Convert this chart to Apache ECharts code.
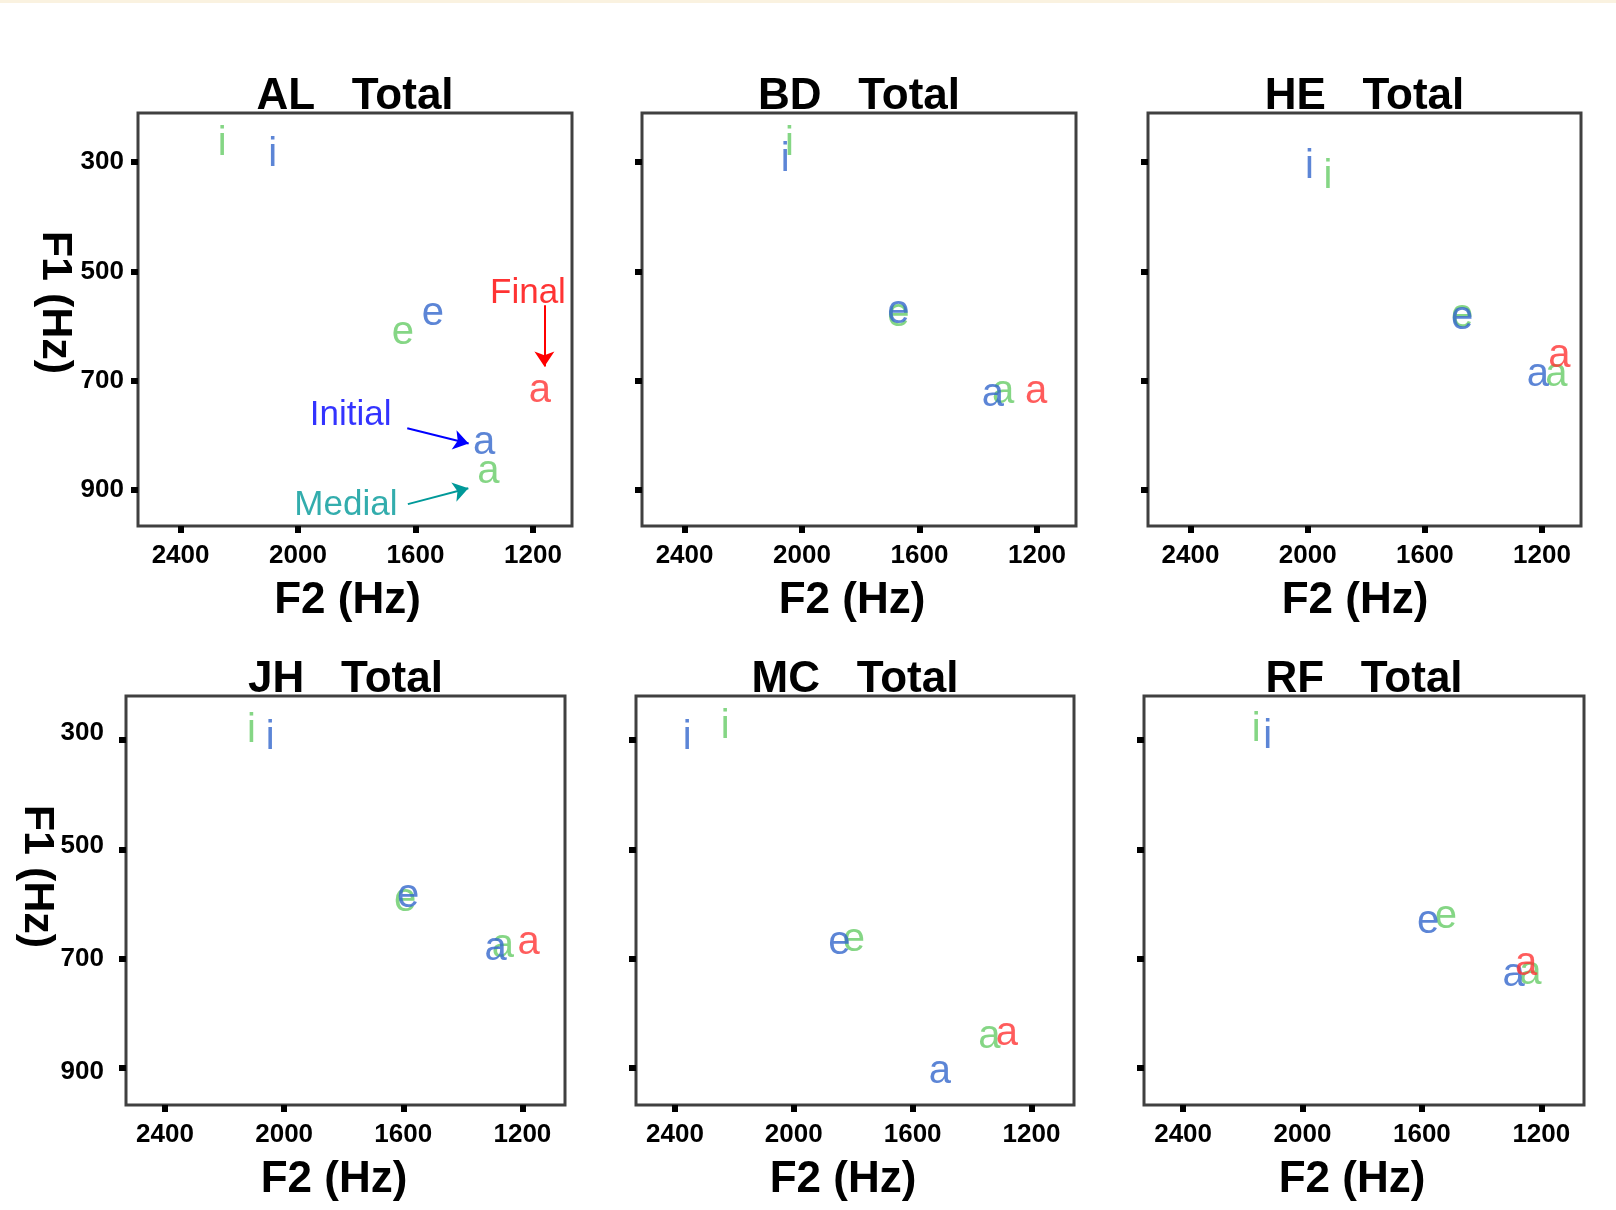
<!DOCTYPE html>
<html>
<head>
<meta charset="utf-8">
<script src="https://cdn.jsdelivr.net/npm/echarts@6/dist/echarts.min.js"></script>
<style>
  html, body { margin: 0; padding: 0; background: #ffffff; }
  #chart { width: 1616px; height: 1210px; }
</style>
</head>
<body>
<div id="chart"></div>
<script>
// Speakers (one panel each) and vowel order used in every row of the formant tables
const speakers = ['AL', 'BD', 'HE', 'JH', 'MC', 'RF'];
const vowels = ['i', 'e', 'a'];

// Mean formants (Hz) per speaker, columns follow `vowels`
const initialF2 = [
  [2086, 1541, 1366],
  [2057, 1672, 1350],
  [1994, 1473, 1214],
  [2047, 1584, 1290],
  [2359, 1847, 1508],
  [2117, 1579, 1293]
];
const initialF1 = [
  [286, 578, 814],
  [296, 575, 726],
  [309, 586, 689],
  [296, 585, 683],
  [296, 672, 908],
  [294, 632, 730]
];
const medialF2 = [
  [2258, 1643, 1352],
  [2043, 1672, 1315],
  [1931, 1473, 1151],
  [2110, 1594, 1266],
  [2231, 1798, 1342],
  [2155, 1520, 1237]
];
const medialF1 = [
  [266, 612, 867],
  [267, 579, 720],
  [328, 582, 689],
  [283, 592, 677],
  [275, 666, 843],
  [281, 623, 726]
];
// Word-final position only has /a/
const finalF2 = [1176, 1203, 1141, 1179, 1283, 1251];
const finalF1 = [719, 720, 655, 672, 838, 709];

const xTicks = [2400, 2000, 1600, 1200];
const yTicks = [300, 500, 700, 900];

// Panel frames (px) and visible axis extents
const topRow = { top: 113, height: 413, xMin: 1067, xMax: 2545, yMin: 210, yMax: 966, titleY: 97 };
const bottomRow = { top: 696, height: 409, xMin: 1057, xMax: 2531, yMin: 219, yMax: 968, titleY: 680 };
const panels = [
  { row: topRow, left: 138, width: 434, yLabels: true, yNameGap: 57, yNameShift: 34, xNameShift: 15 },
  { row: topRow, left: 642, width: 434, xNameShift: 14 },
  { row: topRow, left: 1148, width: 433, xNameShift: 19 },
  // the left-column bottom panel prints its F1 numbers on a slightly looser spacing than its ticks
  { row: bottomRow, left: 126, width: 439, yName: true, yNameGap: 68, yNameShift: 48, xNameShift: 23,
    labelScale: { min: 234.5, max: 958.4, margin: 22 } },
  { row: bottomRow, left: 636, width: 438, xNameShift: 24 },
  { row: bottomRow, left: 1144, width: 440, xNameShift: 24 }
];

const COLORS = { initial: '#3366cc', medial: '#66cc66', final: '#ff3333' };
const FONT = 'Liberation Sans, Arial, sans-serif';

const tickLabelStyle = { color: '#000', fontFamily: FONT, fontWeight: 'bold', fontSize: 26 };
const axisNameStyle = { color: '#000', fontFamily: FONT, fontWeight: 'bold' };

function vowelPoints(f2Row, f1Row) {
  return vowels.map((v, k) => [f2Row[k], f1Row[k], v]);
}

function letterSeries(name, idx, data, color) {
  return {
    name: name,
    type: 'scatter',
    xAxisIndex: idx,
    yAxisIndex: idx,
    data: data,
    symbol: 'circle',
    symbolSize: 1,
    itemStyle: { color: 'rgba(0,0,0,0)' },
    silent: true,
    label: {
      show: true,
      position: 'inside',
      formatter: p => p.data[2],
      color: color,
      fontFamily: FONT,
      fontSize: 40
    }
  };
}

const grids = [], xAxes = [], yAxes = [], extraYAxes = [], series = [], graphics = [];

graphics.push({
  type: 'rect', left: 0, top: 0,
  shape: { width: 1616, height: 3 },
  style: { fill: '#faf2e0' }, silent: true
});

panels.forEach((p, idx) => {
  const r = p.row;
  grids.push({
    left: p.left, top: r.top, width: p.width, height: r.height,
    show: true, borderColor: '#404040', borderWidth: 3, backgroundColor: 'transparent'
  });
  xAxes.push({
    type: 'value', gridIndex: idx, inverse: true, min: r.xMin, max: r.xMax,
    splitLine: { show: false },
    axisLine: { show: false },
    axisTick: { show: true, customValues: xTicks, length: 7, inside: false, lineStyle: { color: '#000', width: 6 } },
    axisLabel: Object.assign({ show: true, customValues: xTicks, margin: 17, formatter: v => String(v) }, tickLabelStyle),
    name: 'F2 (Hz)', nameLocation: 'middle', nameGap: 53,
    nameTextStyle: Object.assign({ fontSize: 44, padding: [0, p.xNameShift, 0, 0] }, axisNameStyle)
  });
  const hasName = p.yLabels || p.yName;
  yAxes.push({
    type: 'value', gridIndex: idx, inverse: true, min: r.yMin, max: r.yMax,
    splitLine: { show: false },
    axisLine: { show: false },
    axisTick: { show: true, customValues: yTicks, length: 7, inside: false, lineStyle: { color: '#000', width: 6 } },
    axisLabel: Object.assign({ show: !!p.yLabels, customValues: yTicks, margin: 14, formatter: v => String(v) }, tickLabelStyle),
    name: hasName ? 'F1 (Hz)' : '', nameLocation: 'middle', nameRotate: -90, nameGap: p.yNameGap || 0,
    nameTextStyle: Object.assign({ fontSize: 43, padding: [0, p.yNameShift || 0, 0, 0] }, axisNameStyle)
  });
  if (p.labelScale) {
    extraYAxes.push({
      type: 'value', gridIndex: idx, position: 'left', inverse: true,
      min: p.labelScale.min, max: p.labelScale.max,
      splitLine: { show: false }, axisLine: { show: false }, axisTick: { show: false },
      axisLabel: Object.assign({ show: true, customValues: yTicks, margin: p.labelScale.margin, formatter: v => String(v) }, tickLabelStyle)
    });
  }

  const medial = vowelPoints(medialF2[idx], medialF1[idx]);
  const initial = vowelPoints(initialF2[idx], initialF1[idx]);
  const fin = [[finalF2[idx], finalF1[idx], 'a']];
  series.push(letterSeries('Medial', idx, medial, COLORS.medial));
  series.push(letterSeries('Initial', idx, initial, COLORS.initial));
  series.push(letterSeries('Final', idx, fin, COLORS.final));

  // Panel heading
  graphics.push({
    type: 'text',
    x: p.left + p.width / 2,
    y: r.titleY,
    silent: true,
    style: {
      text: speakers[idx] + '   Total',
      fill: '#000', font: 'bold 44px ' + FONT,
      align: 'center', verticalAlign: 'middle'
    }
  });
});

// Position labels with arrows on the first panel
const noteLabels = [
  { name: 'Final', value: [1217, 541], color: '#ff0000' },
  { name: 'Initial', value: [1821, 764], color: '#0000ff' },
  { name: 'Medial', value: [1837, 929], color: '#009999' }
];
const noteArrows = [
  { from: [1161, 562], to: [1161, 674], color: '#ff0000' },
  { from: [1628, 787], to: [1419, 815], color: '#0000ff' },
  { from: [1626, 926], to: [1420, 897], color: '#009999' }
];

series.push({
  name: 'notes',
  type: 'scatter',
  xAxisIndex: 0, yAxisIndex: 0,
  symbol: 'circle', symbolSize: 1,
  itemStyle: { color: 'rgba(0,0,0,0)' },
  silent: true,
  data: noteLabels.map(n => ({
    name: n.name, value: n.value,
    label: { color: n.color }
  })),
  label: {
    show: true, position: 'inside',
    formatter: p => p.name,
    fontFamily: FONT, fontSize: 35
  },
  markLine: {
    silent: true,
    animation: false,
    symbol: ['none', 'arrow'],
    symbolSize: 15,
    label: { show: false },
    lineStyle: { width: 2, type: 'solid' },
    data: noteArrows.map(a => [
      { coord: a.from, lineStyle: { color: a.color, width: 2, type: 'solid' }, itemStyle: { color: a.color } },
      { coord: a.to }
    ])
  }
});

const chart = echarts.init(document.getElementById('chart'), null, { renderer: 'canvas' });
chart.setOption({
  backgroundColor: '#ffffff',
  animation: false,
  grid: grids,
  xAxis: xAxes,
  yAxis: yAxes.concat(extraYAxes),
  series: series,
  graphic: graphics
});
</script>
</body>
</html>
